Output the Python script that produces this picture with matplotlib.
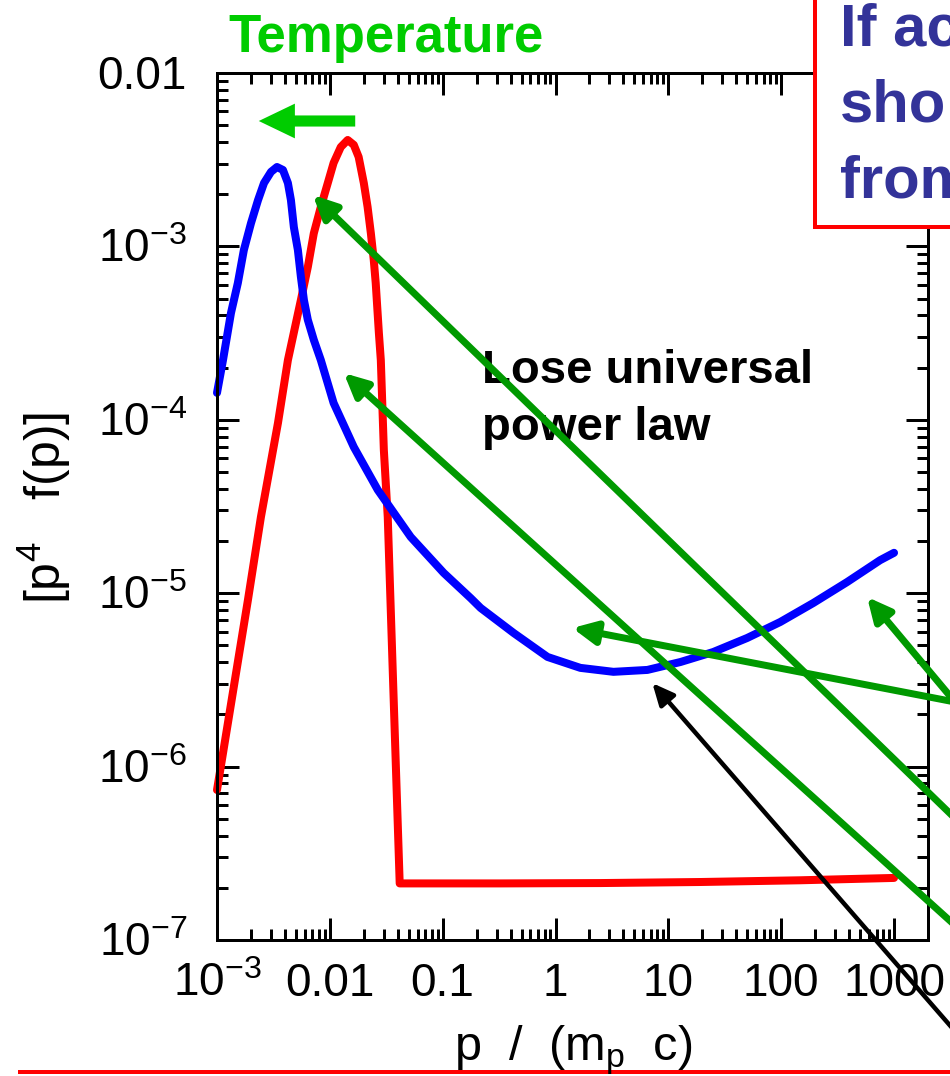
import numpy as np
import matplotlib
matplotlib.use('Agg')
import matplotlib.pyplot as plt
from matplotlib.patches import Rectangle, FancyArrowPatch
from matplotlib.lines import Line2D
from matplotlib.ticker import LogLocator, NullFormatter
from matplotlib.transforms import offset_copy

plt.rcParams['font.family'] = ['Liberation Sans', 'DejaVu Sans']
plt.rcParams['mathtext.fontset'] = 'custom'
plt.rcParams['mathtext.rm'] = 'Liberation Sans'
plt.rcParams['mathtext.it'] = 'Liberation Sans:italic'
plt.rcParams['mathtext.bf'] = 'Liberation Sans:bold'

# ---------------- spectra: p/(m_p c) vs p^4 f(p) ----------------
p_red = [1.0e-3, 1.88e-3, 2.45e-3, 3.47e-3, 4.25e-3, 5.54e-3, 6.38e-3, 7.21e-3,
         8.32e-3, 9.59e-3, 1.08e-2, 1.25e-2, 1.44e-2, 1.63e-2, 1.80e-2, 2.00e-2,
         2.16e-2, 2.31e-2, 2.45e-2, 2.55e-2, 2.72e-2, 2.83e-2, 3.01e-2, 3.26e-2,
         3.61e-2, 4.16e-2, 0.326, 2.50, 19.2, 147, 1000]
f_red = [7.33e-7, 9.14e-6, 2.75e-5, 9.59e-5, 2.21e-4, 4.91e-4, 7.60e-4, 1.19e-3,
         1.69e-3, 2.32e-3, 3.03e-3, 3.74e-3, 4.11e-3, 3.85e-3, 3.28e-3, 2.32e-3,
         1.69e-3, 1.19e-3, 8.36e-4, 6.15e-4, 3.17e-4, 2.21e-4, 6.70e-5, 2.75e-5,
         3.56e-6, 2.12e-7, 2.12e-7, 2.13e-7, 2.16e-7, 2.21e-7, 2.28e-7]

p_blue = [1.0e-3, 1.13e-3, 1.33e-3, 1.53e-3, 1.73e-3, 2.00e-3, 2.31e-3, 2.61e-3,
          3.01e-3, 3.40e-3, 3.84e-3, 4.25e-3, 4.52e-3, 4.80e-3, 5.21e-3, 5.54e-3,
          5.89e-3, 6.38e-3, 7.21e-3, 8.32e-3, 1.08e-2, 1.63e-2, 2.66e-2, 5.21e-2,
          0.102, 0.177, 0.217, 0.425, 0.849, 1.66, 3.26, 6.52, 12.8, 25.0, 50.0,
          98.0, 192, 384, 752, 1000]
f_blue = [1.43e-4, 2.21e-4, 4.13e-4, 6.15e-4, 9.53e-4, 1.36e-3, 1.85e-3, 2.32e-3,
          2.69e-3, 2.87e-3, 2.76e-3, 2.32e-3, 1.85e-3, 1.29e-3, 9.53e-4, 6.67e-4,
          4.91e-4, 3.77e-4, 2.89e-4, 2.21e-4, 1.25e-4, 6.97e-5, 3.94e-5, 2.11e-5,
          1.31e-5, 9.37e-6, 8.22e-6, 5.90e-6, 4.29e-6, 3.71e-6, 3.52e-6, 3.61e-6,
          4.01e-6, 4.58e-6, 5.52e-6, 6.82e-6, 8.77e-6, 1.16e-5, 1.55e-5, 1.71e-5]

x_ticks = [1e-3, 1e-2, 0.1, 1, 10, 100, 1000]
x_tick_labels = [r'$10^{-3}$', '0.01', '0.1', '1', '10', '100', '1000']
y_ticks = [1e-2, 1e-3, 1e-4, 1e-5, 1e-6, 1e-7]
y_tick_labels = ['0.01', r'$10^{-3}$', r'$10^{-4}$', r'$10^{-5}$', r'$10^{-6}$', r'$10^{-7}$']

# features the arrows point at (data coords)
green_tips = [(7.08e-3, 1.98e-3), (1.33e-2, 1.86e-4), (1.41, 6.30e-6), (577, 9.51e-6)]
black_tip = (7.21, 3.03e-6)

# ---------------- layout (pixels) ----------------
W, H, DPI = 950, 1076, 100
PT = 72 / DPI  # points per pixel


def fpx(x, y):
    """pixel position (from top-left) -> figure fraction"""
    return (x / W, 1 - y / H)


fig = plt.figure(figsize=(W / DPI, H / DPI), dpi=DPI)
fig.patch.set_facecolor('white')
ax = fig.add_axes([217 / W, 1 - 940 / H, (928 - 217) / W, (940 - 73) / H])
ax.set_xscale('log')
ax.set_yscale('log')
ax.set_xlim(1e-3, 2000)
ax.set_ylim(1e-7, 1e-2)

ax.plot(p_red, f_red, color='#ff0000', lw=8 * PT, solid_capstyle='round',
        solid_joinstyle='round', clip_on=False, zorder=2)
ax.plot(p_blue, f_blue, color='#0000ff', lw=8 * PT, solid_capstyle='round',
        solid_joinstyle='round', clip_on=False, zorder=2.1)

# ticks on all sides, pointing in
ax.set_xticks(x_ticks)
ax.set_yticks(y_ticks)
ax.xaxis.set_minor_locator(LogLocator(base=10, subs=np.arange(2, 10), numticks=30))
ax.yaxis.set_minor_locator(LogLocator(base=10, subs=np.arange(2, 10), numticks=30))
ax.xaxis.set_minor_formatter(NullFormatter())
ax.yaxis.set_minor_formatter(NullFormatter())
ax.tick_params(which='both', direction='in', top=True, right=True,
               labelbottom=False, labelleft=False, color='black')
ax.tick_params(which='major', length=22 * PT, width=3 * PT)
ax.tick_params(which='minor', length=11 * PT, width=3 * PT)
for sp in ax.spines.values():
    sp.set_linewidth(3 * PT)

# tick labels, baseline aligned
xt = offset_copy(ax.get_xaxis_transform(), fig=fig, x=0, y=-56 * PT, units='points')
for v, s in zip(x_ticks, x_tick_labels):
    ax.text(v, 0, s, transform=xt, ha='center', va='baseline', fontsize=33, clip_on=False)
yt = offset_copy(ax.get_yaxis_transform(), fig=fig, x=-30 * PT, y=-16 * PT, units='points')
for v, s in zip(y_ticks, y_tick_labels):
    ax.text(0, v, s, transform=yt, ha='right', va='baseline', fontsize=33, clip_on=False)

fig.text(*fpx(573, 1060), r'p  /  (m$_{\mathrm{p}}$  c)', ha='center', va='baseline', fontsize=35)
fig.text(*fpx(44, 508), r'[p$^{4}$   f(p)]', rotation=90, ha='center', va='center', fontsize=36)

# annotation text inside the plot
ax.text(*fpx(482, 383), 'Lose universal', transform=fig.transFigure, fontsize=34,
        fontweight='bold', va='baseline', ha='left', zorder=2.5)
ax.text(*fpx(482, 440), 'power law', transform=fig.transFigure, fontsize=34,
        fontweight='bold', va='baseline', ha='left', zorder=2.5)

# arrows coming in from the right side of the slide
green_tails = [(1000, 862), (1000, 966), (955, 702), (955, 702)]
for tip, tail in zip(green_tips, green_tails):
    ax.annotate('', xy=tip, xycoords='data', xytext=fpx(*tail), textcoords='figure fraction',
                arrowprops=dict(arrowstyle='-|>,head_length=0.7,head_width=0.34',
                                mutation_scale=20, lw=7 * PT, color='#009900',
                                shrinkA=0, shrinkB=0),
                annotation_clip=False, zorder=3)
ax.annotate('', xy=black_tip, xycoords='data', xytext=fpx(1000, 1083), textcoords='figure fraction',
            arrowprops=dict(arrowstyle='-|>,head_length=0.65,head_width=0.3',
                            mutation_scale=20, lw=4.5 * PT, color='black',
                            shrinkA=0, shrinkB=0),
            annotation_clip=False, zorder=3)

# "Temperature" label with fat arrow
fig.text(*fpx(228, 52), 'Temperature', color='#00cc00', fontweight='bold',
         fontsize=38, va='baseline', ha='left')
fig.add_artist(FancyArrowPatch(fpx(358, 121), fpx(256, 121), transform=fig.transFigure,
                               arrowstyle='simple,head_length=2.6,head_width=2.5,tail_width=0.8',
                               mutation_scale=10, color='#00cc00', lw=0))

# boxed note at top right
x0, y0 = fpx(815, 227)
fig.add_artist(Rectangle((x0, y0), 1.2 - x0, 0.5, transform=fig.transFigure,
                         facecolor='white', edgecolor='#ff0000', lw=4 * PT, zorder=5))
for s, yb in zip(['If ac', 'sho', 'from'], [46, 122, 197]):
    t = fig.text(*fpx(840, yb), s, color='#333399', fontweight='bold', fontsize=43,
                 va='baseline', ha='left')
    t.set_zorder(6)

# slide rule at the bottom
fig.add_artist(Line2D([20 / W, 1.0], [1 - 1072 / H] * 2, transform=fig.transFigure,
                      color='#ff0000', lw=4 * PT))

fig.savefig('out.png', dpi=DPI, facecolor='white')
